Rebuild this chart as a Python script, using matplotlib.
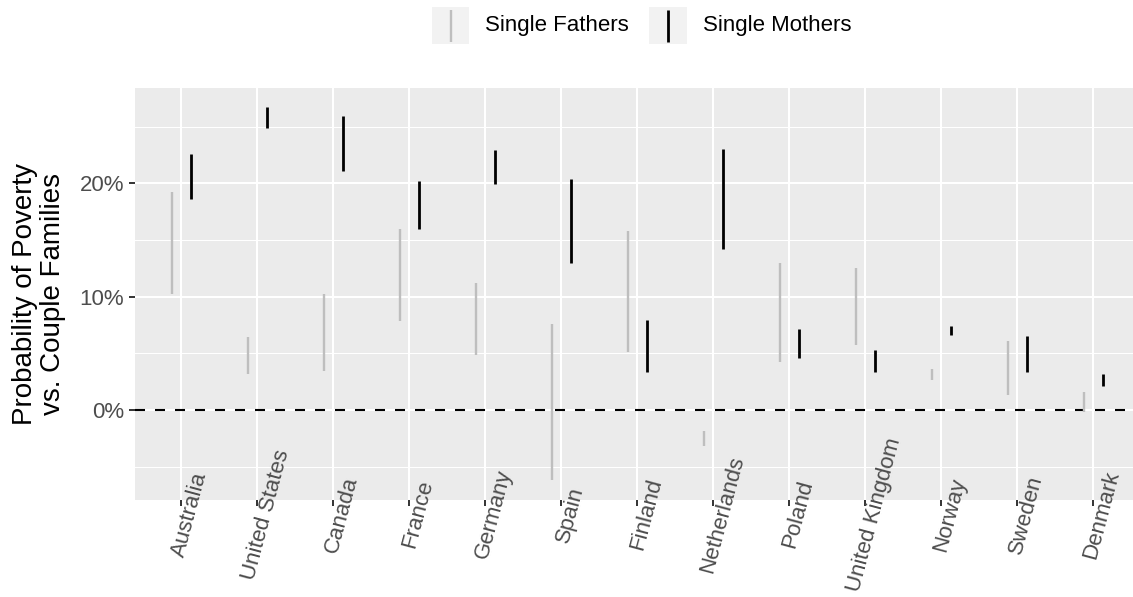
import numpy as np
import matplotlib
matplotlib.use("Agg")
import matplotlib.pyplot as plt
from matplotlib.patches import Rectangle
from matplotlib.lines import Line2D
from matplotlib.ticker import MultipleLocator, FuncFormatter

plt.rcParams['font.family'] = ['Liberation Sans', 'DejaVu Sans']

# countries in plotting order
countries = ["Australia", "United States", "Canada", "France", "Germany",
             "Spain", "Finland", "Netherlands", "Poland", "United Kingdom",
             "Norway", "Sweden", "Denmark"]

# ranges in percent (low, high)
father_low = [10.2, 3.2, 3.4, 7.8, 4.8, -6.2, 5.1, -3.2, 4.2, 5.7, 2.6, 1.3, -0.15]
father_high = [19.2, 6.4, 10.2, 16.0, 11.2, 7.6, 15.8, -1.85, 13.0, 12.5, 3.6, 6.1, 1.56]
mother_low = [18.6, 24.9, 21.1, 16.0, 19.9, 13.0, 3.3, 14.2, 4.6, 3.3, 6.6, 3.3, 2.15]
mother_high = [22.6, 26.7, 25.9, 20.2, 22.9, 20.4, 7.9, 23.0, 7.1, 5.3, 7.4, 6.5, 3.18]

W, H = 1133, 597
fig = plt.figure(figsize=(W / 100, H / 100), dpi=100)

# panel in pixel units (from top-left)
pl, pr, pt, pb = 135.4, 1138.6, 88, 500
ax = fig.add_axes([pl / W, (H - pb) / H, (pr - pl) / W, (pb - pt) / H])
ax.set_facecolor("#EBEBEB")
for s in ax.spines.values():
    s.set_visible(False)

x = np.arange(len(countries))
dodge = 0.125
grey_col = "#BEBEBE"

ax.vlines(x - dodge, father_low, father_high, color=grey_col, lw=1.7,
          capstyle='butt', zorder=3)
ax.vlines(x + dodge, mother_low, mother_high, color="black", lw=2.0,
          capstyle='butt', zorder=3)
ax.axhline(0, color="black", lw=1.5, dashes=(4.8, 4.8), zorder=2)

ax.set_xlim(-0.6, len(countries) - 0.4)
ax.set_ylim(-7.95, 28.4)

ax.yaxis.set_major_locator(MultipleLocator(10))
ax.yaxis.set_minor_locator(MultipleLocator(5))
ax.yaxis.set_major_formatter(FuncFormatter(lambda v, p: f"{v:.0f}%"))
ax.set_xticks(x)
ax.set_xticklabels([""] * len(countries))

ax.grid(which='major', color='white', lw=1.5, zorder=0)
ax.grid(which='minor', axis='y', color='white', lw=0.75, zorder=0)
ax.set_axisbelow(True)

ax.tick_params(axis='y', which='major', length=4, width=1.4, color="#333333",
               labelsize=16, labelcolor="#4D4D4D", pad=4)
ax.tick_params(axis='y', which='minor', length=0)
ax.tick_params(axis='x', which='major', length=4, width=1.4, color="#333333")

# rotated country labels, centred a little below the panel
for i, name in enumerate(countries):
    ax.text(i + 0.118, -14.5 / (pb - pt), name, transform=ax.get_xaxis_transform(),
            rotation=75, rotation_mode='anchor', ha='center', va='center',
            fontsize=16, color="#4D4D4D")

fig.text(39 / W, 1 - 294 / H, "Probability of Poverty\nvs. Couple Families",
         rotation=90, ha='center', va='center', multialignment='center',
         fontsize=20, color="black", linespacing=1.1)

# legend at the top
def fx(px):
    return px / W

def fy(py):
    return 1 - py / H

keys = [(431.7, grey_col, 1.7, "Single Fathers", 485),
        (649.3, "black", 2.0, "Single Mothers", 702.7)]
for kx, col, lw, lab, tx in keys:
    fig.add_artist(Rectangle((fx(kx), fy(44.3)), 37.6 / W, 37.6 / H,
                             transform=fig.transFigure, facecolor="#F2F2F2",
                             edgecolor='none'))
    fig.add_artist(Line2D([fx(kx + 18.8)] * 2, [fy(10), fy(41.7)],
                          transform=fig.transFigure, color=col, lw=lw,
                          solid_capstyle='butt'))
    fig.text(fx(tx), fy(25.5), lab, ha='left', va='center', fontsize=16,
             color="black")

fig.savefig("out.png", dpi=100)
